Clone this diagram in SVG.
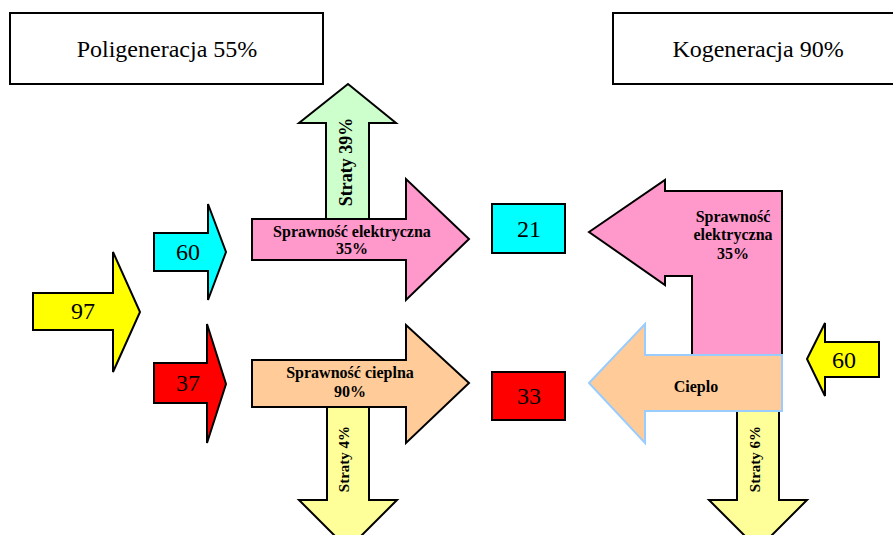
<svg xmlns="http://www.w3.org/2000/svg" width="893" height="535" viewBox="0 0 893 535">
  <style>
    .box { fill: #ffffff; stroke: #000000; stroke-width: 2; }
    .arr { stroke: #000000; stroke-width: 2; stroke-linejoin: miter; }
    .title { font-family: "Liberation Serif", "Times New Roman", serif; font-size: 24px; fill: #000000; text-anchor: middle; }
    .num { font-family: "Liberation Serif", "Times New Roman", serif; font-size: 24px; fill: #000000; text-anchor: middle; }
    .lbl { font-family: "Liberation Serif", "Times New Roman", serif; font-size: 16px; font-weight: bold; fill: #000000; text-anchor: middle; }
    .loss { font-family: "Liberation Serif", "Times New Roman", serif; font-size: 15px; font-weight: bold; fill: #000000; text-anchor: middle; }
  </style>
  <rect width="893" height="535" fill="#ffffff"/>

  <!-- Titles -->
  <g id="title-poligeneracja">
    <rect class="box" x="10" y="13" width="313" height="71"/>
    <text class="title" x="167" y="57">Poligeneracja 55%</text>
  </g>
  <g id="title-kogeneracja">
    <rect class="box" x="613" y="13" width="290" height="71"/>
    <text class="title" x="758" y="57">Kogeneracja 90%</text>
  </g>

  <!-- Polygeneration: inputs -->
  <g id="input-97">
    <polygon class="arr" fill="#ffff00" points="33,293 113,293 113,252 140,312 113,372 113,330 33,330"/>
    <text class="num" x="83" y="319">97</text>
  </g>
  <g id="input-60">
    <polygon class="arr" fill="#00ffff" points="154,233 208,233 208,204 226,252 208,300 208,271 154,271"/>
    <text class="num" x="188" y="260">60</text>
  </g>
  <g id="input-37">
    <polygon class="arr" fill="#ff0000" points="154,363 207,363 207,324 226,384 207,443 207,403 154,403"/>
    <text class="num" x="188" y="391">37</text>
  </g>

  <!-- Polygeneration: losses -->
  <g id="loss-39">
    <polygon class="arr" fill="#ccffcc" points="326,222 326,123 299,123 348,84 396,123 369,123 369,222"/>
    <text class="loss" style="font-size:18px" transform="translate(352,162) rotate(-90)">Straty 39%</text>
  </g>
  <g id="loss-4">
    <polygon class="arr" fill="#ffff99" points="327,404 327,500 299,500 348,549 397,500 369,500 369,404"/>
    <text class="loss" transform="translate(349,459) rotate(-90)">Straty 4%</text>
  </g>

  <!-- Polygeneration: efficiencies -->
  <g id="eff-electric">
    <polygon class="arr" fill="#ff99cc" points="252,219 406,219 406,179 469,239 406,300 406,260 252,260"/>
    <text class="lbl" x="352" y="237">Sprawność elektryczna</text>
    <text class="lbl" x="352" y="254">35%</text>
  </g>
  <g id="eff-heat">
    <polygon class="arr" fill="#ffcc99" points="252,360 406,360 406,325 469,383 406,443 406,407 252,407"/>
    <text class="lbl" x="350" y="378">Sprawność cieplna</text>
    <text class="lbl" x="350" y="397">90%</text>
  </g>

  <!-- Outputs -->
  <g id="out-21">
    <rect class="arr" fill="#00ffff" x="492" y="204" width="73" height="49"/>
    <text class="num" x="529" y="237">21</text>
  </g>
  <g id="out-33">
    <rect class="arr" fill="#ff0000" x="492" y="372" width="73" height="48"/>
    <text class="num" x="529" y="404">33</text>
  </g>

  <!-- Cogeneration -->
  <g id="cog-loss-6">
    <polygon class="arr" fill="#ffff99" points="737,408 737,500 709,500 758,549 807,500 779,500 779,408"/>
    <text class="loss" transform="translate(760,459) rotate(-90)">Straty 6%</text>
  </g>
  <g id="cog-electric">
    <polygon class="arr" fill="#ff99cc" points="589,232 665,180 665,191 782,191 782,358 692,358 692,276 665,276 665,285"/>
    <text class="lbl" x="733" y="222">Sprawność</text>
    <text class="lbl" x="733" y="240">elektryczna</text>
    <text class="lbl" x="733" y="259">35%</text>
  </g>
  <g id="cog-heat">
    <polygon fill="#ffcc99" stroke="#99ccff" stroke-width="2" points="589,383 645,324 645,355 782,355 782,411 645,411 645,443"/>
    <text class="lbl" x="696" y="392">Cieplo</text>
  </g>
  <g id="cog-input-60">
    <polygon class="arr" fill="#ffff00" points="807,359 825,323 825,342 879,342 879,377 825,377 825,396"/>
    <text class="num" x="844" y="368">60</text>
  </g>
</svg>
